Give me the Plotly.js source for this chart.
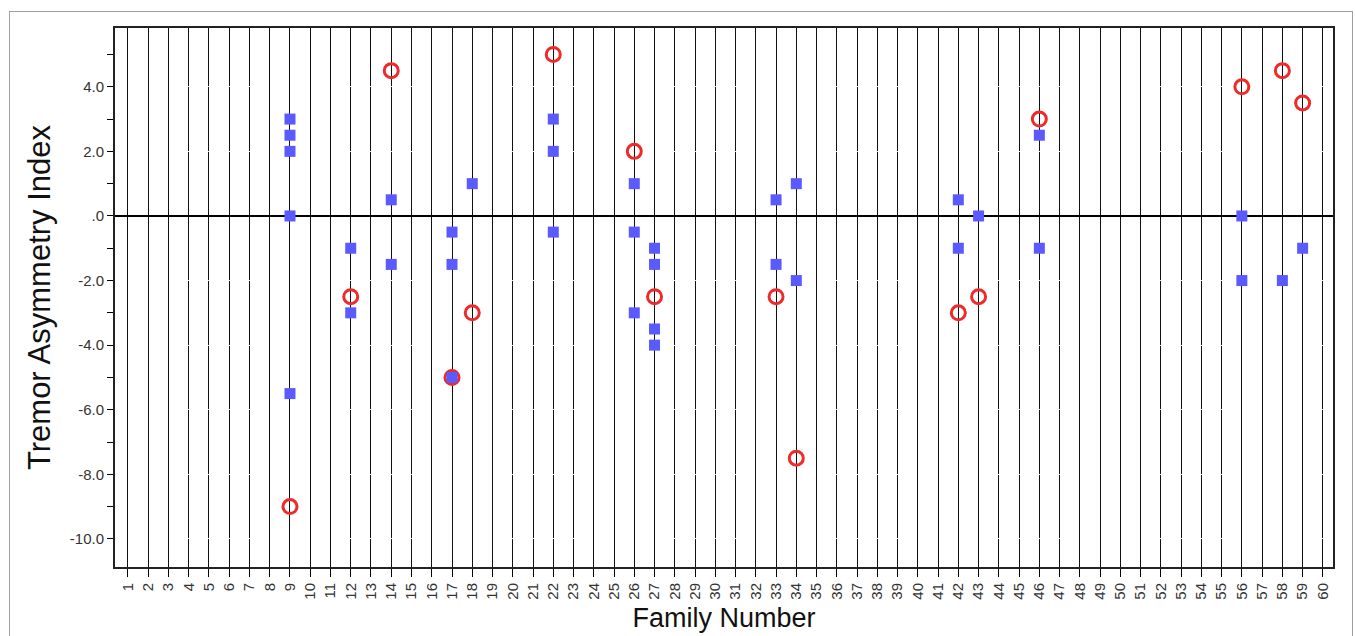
<!DOCTYPE html>
<html>
<head>
<meta charset="utf-8">
<script src="https://cdn.plot.ly/plotly-3.0.1.min.js"></script>
<style>
html,body{margin:0;padding:0;background:#fff;}
#wrap{position:relative;width:1355px;height:636px;}
#chart{width:1355px;height:636px;}
#frame{position:absolute;left:9px;top:11px;width:1342px;height:640px;border:1px solid #a0a0a0;pointer-events:none;}
</style>
</head>
<body>
<div id="wrap"><div id="chart"></div><div id="frame"></div></div>
<script>
// Blue squares
const squareFamily = [9,9,9,9,9, 12,12, 14,14, 17,17,17, 18, 22,22,22, 26,26,26, 27,27,27,27, 33,33, 34,34, 42,42, 43, 46,46, 56,56, 58, 59];
const squareValue  = [3,2.5,2,0,-5.5, -1,-3, 0.5,-1.5, -0.5,-1.5,-5, 1, 3,2,-0.5, 1,-0.5,-3, -1,-1.5,-3.5,-4, 0.5,-1.5, 1,-2, 0.5,-1, 0, 2.5,-1, 0,-2, -2, -1];
// Red open circles
const circleFamily = [9, 12, 14, 17, 18, 22, 26, 27, 33, 34, 42, 43, 46, 56, 58, 59];
const circleValue  = [-9, -2.5, 4.5, -5, -3, 5, 2, -2.5, -2.5, -7.5, -3, -2.5, 3, 4, 4.5, 3.5];
// Tick labels
const xTickVals = Array.from({length:60},(_,i)=>i+1);
const xTickText = xTickVals.map(String);
const yTickVals = [-10,-8,-6,-4,-2,0,2,4];
const yTickText = ["-10.0","-8.0","-6.0","-4.0","-2.0",".0","2.0","4.0"];
const yMinorVals = [-9,-7,-5,-3,-1,1,3,5];

const traces = [
  {type:'scatter', mode:'markers', x:circleFamily, y:circleValue,
   marker:{symbol:'circle-open', size:14, color:'#ee2a2a', line:{width:3, color:'#ee2a2a'}},
   hoverinfo:'x+y', showlegend:false},
  {type:'scatter', mode:'markers', x:squareFamily, y:squareValue,
   marker:{symbol:'square', size:11, color:'#5a5aff', line:{width:0}},
   hoverinfo:'x+y', showlegend:false}
];

const layout = {
  width:1355, height:636,
  margin:{l:115, r:22, t:28, b:69},
  paper_bgcolor:'#fff', plot_bgcolor:'#fff',
  font:{family:'"Liberation Sans", Arial, sans-serif', color:'#333'},
  showlegend:false,
  xaxis:{
    range:[0.36,60.5], tickvals:xTickVals, ticktext:xTickText, tickangle:-90,
    ticks:'outside', ticklen:8, tickcolor:'#000', tickwidth:1,
    showgrid:true, gridcolor:'#111', gridwidth:1,
    showline:true, linecolor:'#222', linewidth:2, mirror:true,
    zeroline:false, tickfont:{size:15, color:'#333'},
    automargin:false,
    title:{text:'Family Number', font:{size:27, color:'#111'}, standoff:9}
  },
  yaxis:{
    range:[-10.87,5.82], tickvals:yTickVals, ticktext:yTickText,
    ticks:'outside', ticklen:6, tickcolor:'#000', tickwidth:1,
    minor:{tickvals:yMinorVals, ticks:'outside', ticklen:6, tickcolor:'#000', showgrid:false},
    showgrid:true, gridcolor:'rgba(255,255,255,0.9)', gridwidth:1, griddash:'dash',
    showline:true, linecolor:'#222', linewidth:2, mirror:true,
    zeroline:true, zerolinecolor:'#000', zerolinewidth:2,
    tickfont:{size:15, color:'#333'},
    automargin:false,
    title:{text:'Tremor Asymmetry Index', font:{size:31, color:'#111'}, standoff:10}
  }
};

Plotly.newPlot('chart', traces, layout, {displayModeBar:false, staticPlot:true});
</script>
</body>
</html>
